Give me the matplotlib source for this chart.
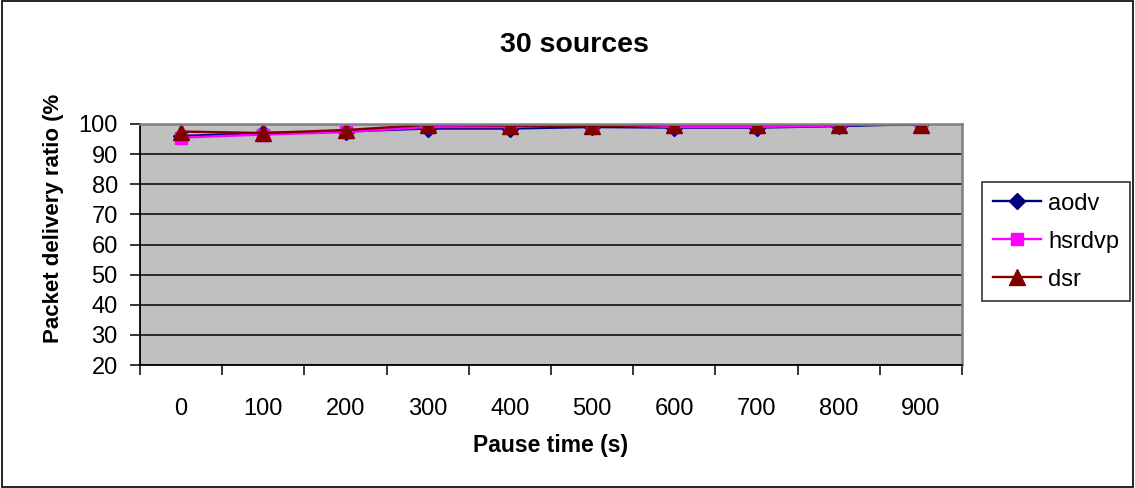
import matplotlib
matplotlib.use("Agg")
import matplotlib.pyplot as plt
import numpy as np

plt.rcParams['font.family'] = ['Liberation Sans', 'DejaVu Sans']

pause = ["0", "100", "200", "300", "400", "500", "600", "700", "800", "900"]
aodv = [96.0, 97.0, 97.5, 98.5, 98.5, 99.0, 98.8, 98.8, 99.3, 100.0]
hsrdvp = [95.5, 96.5, 97.3, 99.0, 99.0, 99.8, 99.0, 99.0, 99.5, 100.5]
dsr = [97.5, 97.0, 98.0, 99.7, 99.5, 99.3, 99.7, 99.7, 99.8, 99.8]

W, H = 1135, 488
fig = plt.figure(figsize=(W / 100, H / 100), dpi=100)
# outer frame
fig.patches.append(plt.Rectangle((0.002, 0.003), 0.996, 0.994, transform=fig.transFigure,
                                 fill=False, edgecolor='black', linewidth=1.2))
ax = fig.add_axes([140 / W, 1 - 365 / H, 822 / W, 241 / H])
ax.set_facecolor('#C0C0C0')
x = np.arange(len(pause))
ax.plot(x, aodv, color='#000080', marker='D', markersize=8, linewidth=1.7, label='aodv')
ax.plot(x, hsrdvp, color='#FF00FF', marker='s', markersize=9, linewidth=1.7, label='hsrdvp')
ax.plot(x, dsr, color='#800000', marker='^', markersize=11, linewidth=1.7, label='dsr')

ax.set_xlim(-0.5, len(pause) - 0.5)
ax.set_ylim(20, 100)
ax.set_yticks(np.arange(20, 101, 10))
ax.yaxis.grid(True, color='black', linewidth=1.1)
ax.set_axisbelow(True)
ax.set_xticks(x)
ax.set_xticklabels(pause, fontsize=17)
ax.set_xticks(np.arange(-0.5, len(pause)), minor=True)
ax.tick_params(axis='x', which='major', length=0, pad=24)
ax.tick_params(axis='x', which='minor', length=7, width=1.1, color='black', direction='out')
ax.tick_params(axis='y', labelsize=17, length=7, width=1.1, direction='out', pad=9)
for s in ['left', 'bottom']:
    ax.spines[s].set_color('black')
    ax.spines[s].set_linewidth(1.3)
for s in ['top', 'right']:
    ax.spines[s].set_color('#808080')
    ax.spines[s].set_linewidth(1.8)

ax.set_xlabel('Pause time (s)', fontsize=16.5, fontweight='bold', labelpad=10)
fig.text(54 / W, 1 - 218 / H, 'Packet delivery ratio (%', rotation=90, ha='center', va='center',
         fontsize=16, fontweight='bold')
fig.text(574 / W, 1 - 45 / H, '30 sources', ha='center', va='center', fontsize=20.5, fontweight='bold')

leg = fig.legend(loc='upper left', bbox_to_anchor=(982 / W, 1 - 182 / H),
                 bbox_transform=fig.transFigure, borderaxespad=0, fontsize=17,
                 frameon=True, fancybox=False, edgecolor='black', handlelength=2.05,
                 labelspacing=0.68, borderpad=0.45, handletextpad=0.3)
leg.get_frame().set_linewidth(1.2)

fig.savefig('out.png', dpi=100)
